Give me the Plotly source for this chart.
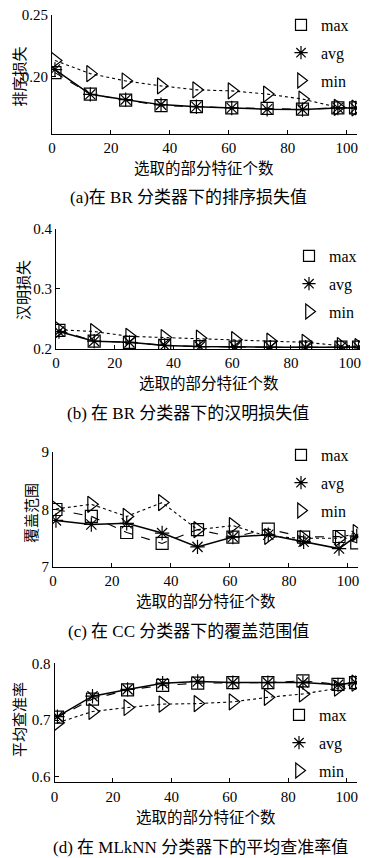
import plotly.graph_objects as go

# The page body adds an 8px margin, so the figure is sized to fit the window.
OFF = 8
W, H = 371 - OFF, 858 - OFF

# ---------------- data ----------------
x_feat = [1, 13, 25, 37, 49, 61, 73, 85, 97, 103]
x_ticks = [0, 20, 40, 60, 80, 100]

# (a) ranking loss, BR
a_max = [0.2035, 0.1862, 0.1814, 0.1769, 0.1761, 0.1750, 0.1747, 0.1740, 0.1750, 0.1750]
a_avg = [0.2060, 0.1860, 0.1817, 0.1777, 0.1760, 0.1750, 0.1740, 0.1737, 0.1750, 0.1750]
a_min = [0.2133, 0.2027, 0.1968, 0.1928, 0.1896, 0.1888, 0.1862, 0.1822, 0.1755, 0.1750]

# (b) hamming loss, BR
b_max = [0.231, 0.213, 0.211, 0.206, 0.204, 0.203, 0.203, 0.203, 0.203, 0.203]
b_avg = [0.229, 0.213, 0.211, 0.206, 0.204, 0.203, 0.203, 0.203, 0.203, 0.203]
b_min = [0.232, 0.229, 0.221, 0.219, 0.218, 0.2155, 0.213, 0.211, 0.2056, 0.204]

# (c) coverage, CC
c_max = [8.00, 7.88, 7.60, 7.41, 7.65, 7.52, 7.66, 7.52, 7.53, 7.42]
c_avg = [7.81, 7.74, 7.76, 7.59, 7.35, 7.52, 7.56, 7.44, 7.32, 7.54]
c_min = [8.01, 8.09, 7.88, 8.12, 7.65, 7.72, 7.53, 7.50, 7.50, 7.60]

# (d) average precision, MLkNN
d_max = [0.705, 0.737, 0.753, 0.761, 0.765, 0.766, 0.766, 0.769, 0.763, 0.766]
d_avg = [0.706, 0.742, 0.754, 0.765, 0.768, 0.766, 0.766, 0.766, 0.762, 0.766]
d_min = [0.695, 0.715, 0.722, 0.728, 0.729, 0.732, 0.740, 0.746, 0.756, 0.765]

series_names = ["max", "avg", "min"]
y_titles = ["排序损失", "汉明损失", "覆盖范围", "平均查准率"]
x_title = "选取的部分特征个数"
captions = ["(a)在 BR 分类器下的排序损失值",
            "(b) 在 BR 分类器下的汉明损失值",
            "(c) 在 CC 分类器下的覆盖范围值",
            "(d) 在 MLkNN 分类器下的平均查准率值"]
y_tickvals = [[0.20, 0.25], [0.2, 0.3, 0.4], [7, 8, 9], [0.6, 0.7, 0.8]]
y_ticktext = [["0.20", "0.25"], ["0.2", "0.3", "0.4"], ["7", "8", "9"], ["0.6", "0.7", "0.8"]]
y_ranges = [[0.154, 0.25], [0.2, 0.4], [7, 9], [0.59, 0.8]]

panels = [(a_max, a_avg, a_min), (b_max, b_avg, b_min),
          (c_max, c_avg, c_min), (d_max, d_avg, d_min)]

# ---------------- layout geometry (window pixels) ----------------
geo_x = [(52, 357), (56, 360), (53, 358.2), (54.5, 357)]
geo_y = [(15, 134), (228.5, 349), (452, 567), (663.3, 782.4)]
legend_top = [8, 239, 438, 698]
legend_left = [281, 289, 281, 279]
ytitle_pos = [(17.5, 77), (22, 290), (30, 513), (18, 720)]
xtitle_pos = [(204, 167), (209, 382), (206, 600), (206, 816)]
caption_pos = [(188, 198), (188, 413), (188, 631), (200, 847)]


def fx(p):
    return (p - OFF) / W


def fy(p):
    return 1 - (p - OFF) / H


FONT = "Liberation Serif, Noto Sans CJK SC, serif"
CJK = "Noto Sans CJK SC, Liberation Serif, serif"

styles = {
    "max": dict(symbol="square-open", size=12, dash="dash", width=1.1),
    "avg": dict(symbol="asterisk-open", size=12, dash="solid", width=1.5),
    "min": dict(symbol="triangle-right-open", size=14, dash="dot", width=1.1),
}

fig = go.Figure()
layout = {}
annotations = []

for i, vals in enumerate(panels):
    k = "" if i == 0 else str(i + 1)
    xa, ya = "x" + k, "y" + k
    leg = "legend" + k
    for name, yv in zip(series_names, vals):
        st = styles[name]
        fig.add_trace(go.Scatter(
            x=x_feat, y=yv, mode="lines+markers", name=name,
            xaxis=xa, yaxis=ya, showlegend=False,
            line=dict(color="black", width=st["width"], dash=st["dash"]),
            marker=dict(symbol=st["symbol"], size=st["size"], color="black",
                        line=dict(color="black", width=1.2)),
        ))
    for name in series_names:
        st = styles[name]
        fig.add_trace(go.Scatter(
            x=[None], y=[None], mode="markers", name=name,
            xaxis=xa, yaxis=ya, legend=leg, legendgroup=f"{name}{i}",
            marker=dict(symbol=st["symbol"], size=st["size"] - 1, color="black",
                        line=dict(color="black", width=1.2)),
        ))
    xl, xr = geo_x[i]
    yt, yb = geo_y[i]
    layout["xaxis" + k] = dict(
        domain=[fx(xl), fx(xr)], range=[0, 103.5], anchor=ya,
        tickvals=x_ticks, ticks="inside", ticklen=4, tickcolor="black",
        showline=True, linecolor="black", linewidth=1.2, showgrid=False,
        zeroline=False, ticklabeloverflow="allow",
        tickfont=dict(family=FONT, size=15, color="black"),
    )
    layout["yaxis" + k] = dict(
        domain=[fy(yb), fy(yt)], range=y_ranges[i], anchor=xa,
        tickvals=y_tickvals[i], ticktext=y_ticktext[i], ticks="inside",
        ticklen=4, tickcolor="black", showline=True, linecolor="black",
        linewidth=1.2, showgrid=False, zeroline=False, ticklabeloverflow="allow",
        tickfont=dict(family=FONT, size=15, color="black"),
    )
    layout[leg] = dict(
        x=fx(legend_left[i]), y=fy(legend_top[i]), xanchor="left", yanchor="top",
        bgcolor="rgba(0,0,0,0)", font=dict(family=FONT, size=16, color="black"),
        traceorder="grouped", tracegroupgap=4, itemwidth=30,
    )
    annotations.append(dict(
        text=y_titles[i], x=fx(ytitle_pos[i][0]), y=fy(ytitle_pos[i][1]),
        xref="paper", yref="paper", showarrow=False, textangle=-90,
        font=dict(family=CJK, size=15, color="black"), xanchor="center", yanchor="middle",
    ))
    annotations.append(dict(
        text=x_title, x=fx(xtitle_pos[i][0]), y=fy(xtitle_pos[i][1]),
        xref="paper", yref="paper", showarrow=False,
        font=dict(family=CJK, size=15.5, color="black"), xanchor="center", yanchor="middle",
    ))
    annotations.append(dict(
        text=captions[i], x=fx(caption_pos[i][0]), y=fy(caption_pos[i][1]),
        xref="paper", yref="paper", showarrow=False,
        font=dict(family=FONT, size=17, color="black"), xanchor="center", yanchor="middle",
    ))

fig.update_layout(
    width=W, height=H, margin=dict(l=0, r=0, t=0, b=0, autoexpand=False),
    paper_bgcolor="white", plot_bgcolor="white",
    annotations=annotations, **layout,
)

fig.write_html("out.html")
